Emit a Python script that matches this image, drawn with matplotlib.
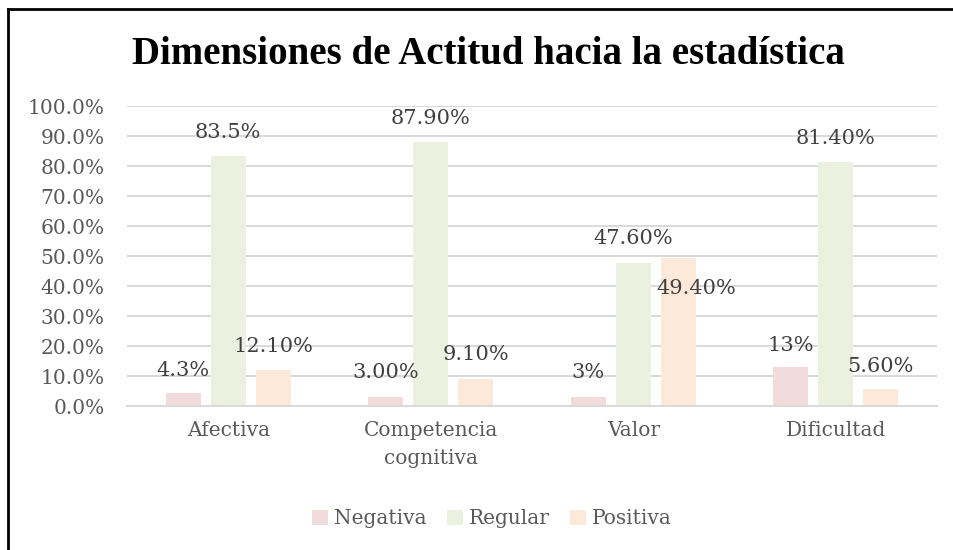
import numpy as np
import matplotlib.pyplot as plt
import matplotlib.lines as mlines
from matplotlib.patches import Patch

CATEGORIES = ['Afectiva', 'Competencia\ncognitiva', 'Valor', 'Dificultad']
SERIES = ['Negativa', 'Regular', 'Positiva']
NEGATIVA = [4.3, 3.0, 3.0, 13.0]
REGULAR = [83.5, 87.9, 47.6, 81.4]
POSITIVA = [12.1, 9.1, 49.4, 5.6]
LABELS = [
    ['4.3%', '3.00%', '3%', '13%'],
    ['83.5%', '87.90%', '47.60%', '81.40%'],
    ['12.10%', '9.10%', '49.40%', '5.60%'],
]
YTICKS = [0, 10, 20, 30, 40, 50, 60, 70, 80, 90, 100]

COLORS = ['#F2DCDB', '#EBF1DE', '#FDE9D9']
# label offsets (data units above the bar top, and x shift in bar widths)
LABEL_DY = [
    [7.7, 8.0, 8.0, 7.3],
    [7.5, 8.1, 8.1, 7.6],
    [7.6, 7.9, -10.1, 7.4],
]
LABEL_DX = [
    [0, 0, 0, 0],
    [0, 0, 0, 0],
    [0, 0, 0.09, 0],
]

FONT = 'DejaVu Serif'
TEXT_GREY = '#595959'
LABEL_GREY = '#404040'

W, H = 954, 550
fig = plt.figure(figsize=(W / 100, H / 100), dpi=100)
ax = fig.add_axes([127 / W, 1 - 406 / H, 810 / W, 300 / H])

values = [NEGATIVA, REGULAR, POSITIVA]
x = np.arange(len(CATEGORIES))
step = 45 / 202.5
width = 35 / 202.5
for i, (name, vals) in enumerate(zip(SERIES, values)):
    pos = x + (i - 1) * step
    ax.bar(pos, vals, width=width, color=COLORS[i], zorder=2)
    for j, v in enumerate(vals):
        ax.text(pos[j] + LABEL_DX[i][j], v + LABEL_DY[i][j], LABELS[i][j],
                ha='center', va='center', fontsize=15, family=FONT,
                color=LABEL_GREY, zorder=3)

ax.set_xlim(-0.5, len(CATEGORIES) - 0.5)
ax.set_ylim(0, 100)
ax.set_yticks(YTICKS)
ax.set_yticklabels([f'{t:.1f}%' for t in YTICKS], family=FONT,
                   fontsize=14.5, color=TEXT_GREY)
ax.set_xticks(x)
ax.set_xticklabels(CATEGORIES, family=FONT, fontsize=14.5, color=TEXT_GREY,
                   linespacing=1.6)
ax.tick_params(axis='both', length=0)
ax.tick_params(axis='x', pad=11)
ax.tick_params(axis='y', pad=16)
ax.grid(axis='y', color='#D9D9D9', linewidth=1.4, zorder=0)
for s in ['top', 'right', 'left']:
    ax.spines[s].set_visible(False)
ax.spines['bottom'].set_color('#D9D9D9')
ax.spines['bottom'].set_linewidth(1.4)

fig.text(488 / W, 1 - 64 / H, 'Dimensiones de Actitud hacia la estadística',
         ha='center', va='baseline', fontsize=28, fontweight='bold',
         family='Liberation Serif', color='black')

handles = [Patch(facecolor=c, edgecolor='none') for c in COLORS]
fig.legend(handles, SERIES, loc='center', bbox_to_anchor=(492 / W, 1 - 519 / H),
           ncol=3, frameon=False, handlelength=0.8, handleheight=0.8,
           handletextpad=0.3, columnspacing=1.0,
           prop={'family': FONT, 'size': 14.5}, labelcolor=TEXT_GREY)

# outer border lines (left and top)
fig.add_artist(mlines.Line2D([8 / W, 8 / W], [0, 1 - 9 / H], color='black',
                             linewidth=2, transform=fig.transFigure))
fig.add_artist(mlines.Line2D([8 / W, 1], [1 - 9 / H, 1 - 9 / H], color='black',
                             linewidth=2, transform=fig.transFigure))

fig.savefig('out.png', dpi=100)
